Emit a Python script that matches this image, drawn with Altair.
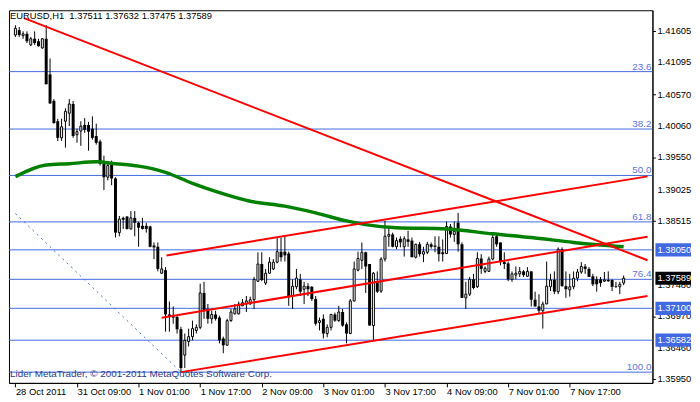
import json
import altair as alt
import pandas as pd

FONT = "Liberation Sans, Arial, sans-serif"
BLUE = "#4169E1"

# ---------------- data ----------------
opens = [
    1.4154, 1.4162, 1.4153, 1.4156, 1.4138, 1.4148, 1.4144, 1.4133, 1.4148, 1.4090,
    1.4047, 1.4014, 1.3987, 1.4014, 1.4027, 1.4042, 1.3992, 1.3998, 1.4008, 1.4008,
    1.4002, 1.3990, 1.3981, 1.3945, 1.3923, 1.3945, 1.3921, 1.3833, 1.3857, 1.3859,
    1.3839, 1.3857, 1.3849, 1.3844, 1.3844, 1.3843, 1.3812, 1.3810, 1.3767, 1.3772,
    1.3700, 1.3698, 1.3696, 1.3676, 1.3634, 1.3656, 1.3664, 1.3674, 1.3679, 1.3735,
    1.3709, 1.3693, 1.3700, 1.3695, 1.3661, 1.3650, 1.3690, 1.3701, 1.3701, 1.3714,
    1.3717, 1.3717, 1.3724, 1.3754, 1.3782, 1.3751, 1.3767, 1.3774, 1.3785, 1.3802,
    1.3802, 1.3799, 1.3730, 1.3745, 1.3757, 1.3741, 1.3746, 1.3745, 1.3725, 1.3687,
    1.3693, 1.3669, 1.3679, 1.3700, 1.3690, 1.3704, 1.3684, 1.3669, 1.3722, 1.3772,
    1.3788, 1.3801, 1.3782, 1.3682, 1.3754, 1.3738, 1.3790, 1.3827, 1.3830, 1.3810,
    1.3823, 1.3810, 1.3822, 1.3820, 1.3793, 1.3814, 1.3798, 1.3801, 1.3814, 1.3812,
    1.3810, 1.3801, 1.3799, 1.3843, 1.3830, 1.3849, 1.3814, 1.3727, 1.3733, 1.3757,
    1.3745, 1.3791, 1.3770, 1.3770, 1.3790, 1.3827, 1.3817, 1.3785, 1.3783, 1.3757,
    1.3764, 1.3766, 1.3770, 1.3762, 1.3770, 1.3724, 1.3713, 1.3706, 1.3717, 1.3745,
    1.3756, 1.3737, 1.3806, 1.3746, 1.3740, 1.3745, 1.3759, 1.3769, 1.3778, 1.3774,
    1.3762, 1.3757, 1.3757, 1.3754, 1.3756, 1.3756, 1.3746, 1.3745, 1.37511,
]
highs = [
    1.4170, 1.4167, 1.4160, 1.4160, 1.4151, 1.4160, 1.4148, 1.4149, 1.4170, 1.4116,
    1.4050, 1.4018, 1.4018, 1.4035, 1.4050, 1.4047, 1.4002, 1.4014, 1.4019, 1.4013,
    1.4022, 1.4010, 1.3984, 1.3958, 1.3947, 1.3950, 1.3923, 1.3860, 1.3859, 1.3860,
    1.3868, 1.3868, 1.3851, 1.3857, 1.3849, 1.3844, 1.3817, 1.3817, 1.3793, 1.3777,
    1.3721, 1.3713, 1.3698, 1.3680, 1.3669, 1.3677, 1.3690, 1.3684, 1.3750, 1.3753,
    1.3717, 1.3706, 1.3706, 1.3698, 1.3664, 1.3693, 1.3709, 1.3717, 1.3721, 1.3725,
    1.3730, 1.3729, 1.3761, 1.3801, 1.3801, 1.3774, 1.3793, 1.3790, 1.3825, 1.3825,
    1.3827, 1.3802, 1.3757, 1.3774, 1.3766, 1.3753, 1.3751, 1.3746, 1.3730, 1.3695,
    1.3700, 1.3684, 1.3701, 1.3703, 1.3714, 1.3709, 1.3687, 1.3725, 1.3786, 1.3802,
    1.3817, 1.3802, 1.3782, 1.3769, 1.3770, 1.3793, 1.3852, 1.3841, 1.3833, 1.3825,
    1.3827, 1.3827, 1.3836, 1.3825, 1.3815, 1.3818, 1.3810, 1.3818, 1.3817, 1.3827,
    1.3827, 1.3822, 1.3851, 1.3847, 1.3851, 1.3865, 1.3817, 1.3753, 1.3761, 1.3766,
    1.3801, 1.3798, 1.3778, 1.3794, 1.3833, 1.3831, 1.3817, 1.3801, 1.3786, 1.3770,
    1.3778, 1.3777, 1.3772, 1.3777, 1.3770, 1.3737, 1.3733, 1.3721, 1.3786, 1.3766,
    1.3770, 1.3809, 1.3809, 1.3770, 1.3766, 1.3770, 1.3774, 1.3785, 1.3782, 1.3777,
    1.3766, 1.3762, 1.3761, 1.3769, 1.3770, 1.3757, 1.3753, 1.3753, 1.37632,
]
lows = [
    1.4151, 1.4151, 1.4148, 1.4141, 1.4136, 1.4138, 1.4135, 1.4132, 1.4074, 1.4042,
    1.4010, 1.3982, 1.3982, 1.3971, 1.4006, 1.3987, 1.3979, 1.3974, 1.3995, 1.3966,
    1.3984, 1.3976, 1.3942, 1.3902, 1.3918, 1.3910, 1.3825, 1.3827, 1.3839, 1.3838,
    1.3838, 1.3827, 1.3810, 1.3838, 1.3833, 1.3809, 1.3790, 1.3770, 1.3766, 1.3672,
    1.3672, 1.3685, 1.3669, 1.3606, 1.3613, 1.3648, 1.3658, 1.3669, 1.3676, 1.3693,
    1.3685, 1.3685, 1.3690, 1.3653, 1.3637, 1.3650, 1.3688, 1.3700, 1.3700, 1.3714,
    1.3704, 1.3716, 1.3709, 1.3753, 1.3754, 1.3748, 1.3766, 1.3772, 1.3783, 1.3786,
    1.3786, 1.3714, 1.3709, 1.3741, 1.3730, 1.3717, 1.3730, 1.3722, 1.3682, 1.3674,
    1.3661, 1.3663, 1.3674, 1.3688, 1.3688, 1.3680, 1.3653, 1.3668, 1.3721, 1.3770,
    1.3774, 1.3735, 1.3682, 1.3656, 1.3735, 1.3735, 1.3786, 1.3810, 1.3809, 1.3806,
    1.3809, 1.3794, 1.3810, 1.3793, 1.3791, 1.3794, 1.3785, 1.3798, 1.3807, 1.3801,
    1.3786, 1.3786, 1.3798, 1.3825, 1.3818, 1.3802, 1.3727, 1.3709, 1.3730, 1.3741,
    1.3743, 1.3766, 1.3767, 1.3769, 1.3788, 1.3810, 1.3780, 1.3774, 1.3754, 1.3753,
    1.3757, 1.3761, 1.3761, 1.3761, 1.3713, 1.3713, 1.3701, 1.3677, 1.3717, 1.3738,
    1.3733, 1.3733, 1.3745, 1.3727, 1.3729, 1.3741, 1.3754, 1.3766, 1.3766, 1.3761,
    1.3746, 1.3737, 1.3745, 1.3753, 1.3753, 1.3738, 1.3743, 1.3733, 1.37475,
]
closes = [
    1.4165, 1.4154, 1.4156, 1.4144, 1.4148, 1.4141, 1.4136, 1.4148, 1.4074, 1.4043,
    1.4011, 1.3987, 1.4005, 1.4030, 1.4042, 1.3990, 1.3997, 1.4006, 1.4000, 1.3997,
    1.3987, 1.3979, 1.3945, 1.3923, 1.3942, 1.3921, 1.3833, 1.3855, 1.3854, 1.3839,
    1.3857, 1.3849, 1.3841, 1.3839, 1.3839, 1.3810, 1.3809, 1.3774, 1.3774, 1.3700,
    1.3696, 1.3695, 1.3676, 1.3613, 1.3658, 1.3664, 1.3677, 1.3679, 1.3735, 1.3706,
    1.3693, 1.3700, 1.3693, 1.3658, 1.3650, 1.3690, 1.3704, 1.3709, 1.3717, 1.3719,
    1.3722, 1.3724, 1.3757, 1.3782, 1.3756, 1.3767, 1.3785, 1.3785, 1.3802, 1.3793,
    1.3796, 1.3730, 1.3746, 1.3759, 1.3737, 1.3746, 1.3741, 1.3725, 1.3685, 1.3690,
    1.3669, 1.3679, 1.3700, 1.3690, 1.3704, 1.3682, 1.3669, 1.3722, 1.3774, 1.3791,
    1.3801, 1.3778, 1.3682, 1.3767, 1.3737, 1.3790, 1.3827, 1.3830, 1.3810, 1.3820,
    1.3817, 1.3823, 1.3818, 1.3793, 1.3814, 1.3798, 1.3802, 1.3814, 1.3810, 1.3810,
    1.3798, 1.3798, 1.3843, 1.3830, 1.3835, 1.3814, 1.3727, 1.3733, 1.3757, 1.3743,
    1.3791, 1.3774, 1.3775, 1.3790, 1.3825, 1.3814, 1.3785, 1.3782, 1.3757, 1.3766,
    1.3767, 1.3770, 1.3764, 1.3770, 1.3724, 1.3713, 1.3706, 1.3717, 1.3746, 1.3756,
    1.3737, 1.3806, 1.3746, 1.3741, 1.3745, 1.3759, 1.3769, 1.3778, 1.3774, 1.3761,
    1.3749, 1.3749, 1.3751, 1.3756, 1.3754, 1.3745, 1.3745, 1.3749, 1.37589,
]

# moving average (green), sampled at bar indices
ma_bars = [0, 8, 14, 21, 26, 32, 39, 46, 52, 61, 70, 78, 86, 91, 99, 112, 124, 134, 145, 158]
ma_values = [1.3924, 1.3943, 1.3945, 1.3948, 1.3945, 1.3941, 1.3931, 1.3913, 1.3900, 1.3884,
             1.3876, 1.3865, 1.3852, 1.3846, 1.3841, 1.3839, 1.3831, 1.3825, 1.3817, 1.3810]

# red trend lines (bar index, price) start -> end
trend_names = ["down", "upper", "middle", "lower"]
trend_i0 = [2.25, 39.25, 38.0, 43.0]
trend_p0 = [1.41814, 1.37958, 1.36946, 1.36063]
trend_i1 = [164.2, 164.2, 164.2, 164.2]
trend_p1 = [1.37881, 1.39244, 1.38264, 1.37300]

# fibonacci dashed trend (bar index, price)
fib_line_bars = [0.0, 43.0]
fib_line_prices = [1.3864, 1.36063]

fib_names = ["23.6", "38.2", "50.0", "61.8", "76.4", "100.0"]
fib_prices = [1.40946, 1.40013, 1.39259, 1.38504, 1.37571, 1.36063]
hline_prices = [1.38050, 1.37100, 1.36582]
bid_price = 1.37589

tick_bars = [0, 16, 32, 48, 64, 80, 96, 112, 128, 144]
tick_labels = ["28 Oct 2011", "31 Oct 09:00", "1 Nov 01:00", "1 Nov 17:00", "2 Nov 09:00",
               "3 Nov 01:00", "3 Nov 17:00", "4 Nov 09:00", "7 Nov 01:00", "7 Nov 17:00"]
price_ticks = [1.41605, 1.41095, 1.40570, 1.40060, 1.39550, 1.39025, 1.38515,
               1.37480, 1.36970, 1.36460, 1.35950]

header = "EURUSD,H1\u00a0 1.37511 1.37632 1.37475 1.37589"
footer = "Lider MetaTrader, \u00a9 2001-2011 MetaQuotes Software Corp."

# ---------------- tables ----------------
bars = pd.DataFrame({"i": list(range(len(opens))), "open": opens, "high": highs,
                     "low": lows, "close": closes})
bars["bull"] = bars["close"] >= bars["open"]

ma = pd.DataFrame({"i": ma_bars, "p": ma_values})
trend = pd.DataFrame({
    "name": trend_names * 2,
    "i": trend_i0 + trend_i1,
    "p": trend_p0 + trend_p1,
})
fibline = pd.DataFrame({"i": fib_line_bars, "p": fib_line_prices})
hl = pd.DataFrame({"p": fib_prices + hline_prices})
fiblab = pd.DataFrame({"p": fib_prices, "t": fib_names})
ylabs = pd.DataFrame({"p": price_ticks})
boxes = pd.DataFrame({"p": hline_prices + [bid_price],
                      "c": [BLUE, BLUE, BLUE, "#000000"]})

W, H = 651, 377
xs = alt.Scale(domain=[-0.38, 164.2], nice=False, zero=False)
ys = alt.Scale(domain=[1.35888, 1.41943], nice=False, zero=False)

label_expr = f"{json.dumps(tick_labels)}[indexof({json.dumps(tick_bars)}, datum.value)]"
x_axis = alt.Axis(values=tick_bars, labelExpr=label_expr, title=None, grid=False,
                  orient="bottom", tickSize=4, tickColor="black", domainColor="black",
                  labelAlign="left", labelBaseline="top", labelPadding=0,
                  labelFontSize=9.5, labelFont=FONT, labelColor="black",
                  labelFlush=False, labelOverlap=False)
y_axis = alt.Axis(values=price_ticks, title=None, grid=False, labels=False,
                  orient="right", tickSize=3, tickColor="black", domainColor="black")

X = alt.X("i:Q", scale=xs, axis=x_axis)
Xn = alt.X("i:Q", scale=xs)


def Yq(field):
    return alt.Y(field, type="quantitative", scale=ys, title=None)


hlines = alt.Chart(hl).mark_rule(color=BLUE, strokeWidth=1).encode(
    y=alt.Y("p:Q", scale=ys, axis=y_axis))

dashed = alt.Chart(fibline).mark_line(color=BLUE, strokeWidth=1, strokeDash=[2, 4], clip=True).encode(
    x=X, y=Yq("p"))

wicks = alt.Chart(bars).mark_rule(color="black", strokeWidth=1).encode(
    x=Xn, y=Yq("low"), y2="high:Q")

bear = alt.Chart(bars).transform_filter("!datum.bull").mark_bar(
    size=3, color="black", orient="vertical").encode(
    x=Xn, y=Yq("open"), y2="close:Q")

bull = alt.Chart(bars).transform_filter("datum.bull").mark_bar(
    size=2, fill="white", stroke="black", strokeWidth=1, orient="vertical").encode(
    x=Xn, y=Yq("open"), y2="close:Q")

ma_line = alt.Chart(ma).mark_line(color="#008000", strokeWidth=3.5, interpolate="monotone").encode(
    x=Xn, y=Yq("p"))

trends = alt.Chart(trend).mark_line(color="#FF0000", strokeWidth=2, clip=True).encode(
    x=Xn, y=Yq("p"), detail="name:N")

fib_text = alt.Chart(fiblab).mark_text(align="right", baseline="alphabetic", dy=-2,
                                       fontSize=10, font=FONT, color="#5A74E0").encode(
    x=alt.value(W - 1), y=Yq("p"), text="t:N")

price_text = alt.Chart(ylabs).mark_text(align="left", baseline="middle", fontSize=9.5,
                                        font=FONT, color="black").encode(
    x=alt.value(W + 5), y=Yq("p"), text=alt.Text("p:Q", format=".5f"))

box_shape = "M-1,-0.37L1,-0.37L1,0.37L-1,0.37Z"
box_marks = alt.Chart(boxes).mark_point(shape=box_shape, size=1296, filled=True,
                                        opacity=1, strokeWidth=0).encode(
    x=alt.value(W + 21), y=Yq("p"),
    color=alt.Color("c:N", scale=None))
box_text = alt.Chart(boxes).mark_text(align="left", baseline="middle", fontSize=9.5,
                                      font=FONT, color="white").encode(
    x=alt.value(W + 5), y=Yq("p"),
    text=alt.Text("p:Q", format=".5f"))

head = alt.Chart(pd.DataFrame({"t": [header]})).mark_text(
    align="left", baseline="middle", fontSize=9.5, font=FONT, color="black").encode(
    x=alt.value(1), y=alt.value(6), text="t:N")
foot = alt.Chart(pd.DataFrame({"t": [footer]})).mark_text(
    align="left", baseline="middle", fontSize=10, font=FONT, color="#2E3A87").encode(
    x=alt.value(1), y=alt.value(368), text="t:N")

chart = alt.layer(
    hlines, dashed, wicks, bear, bull, ma_line, trends, fib_text, price_text,
    box_marks, box_text, head, foot
).properties(width=W, height=H, padding=0, background="white").configure_view(
    stroke="black", strokeWidth=1)

chart.save("out.html", embed_options={"renderer": "svg", "actions": False})
